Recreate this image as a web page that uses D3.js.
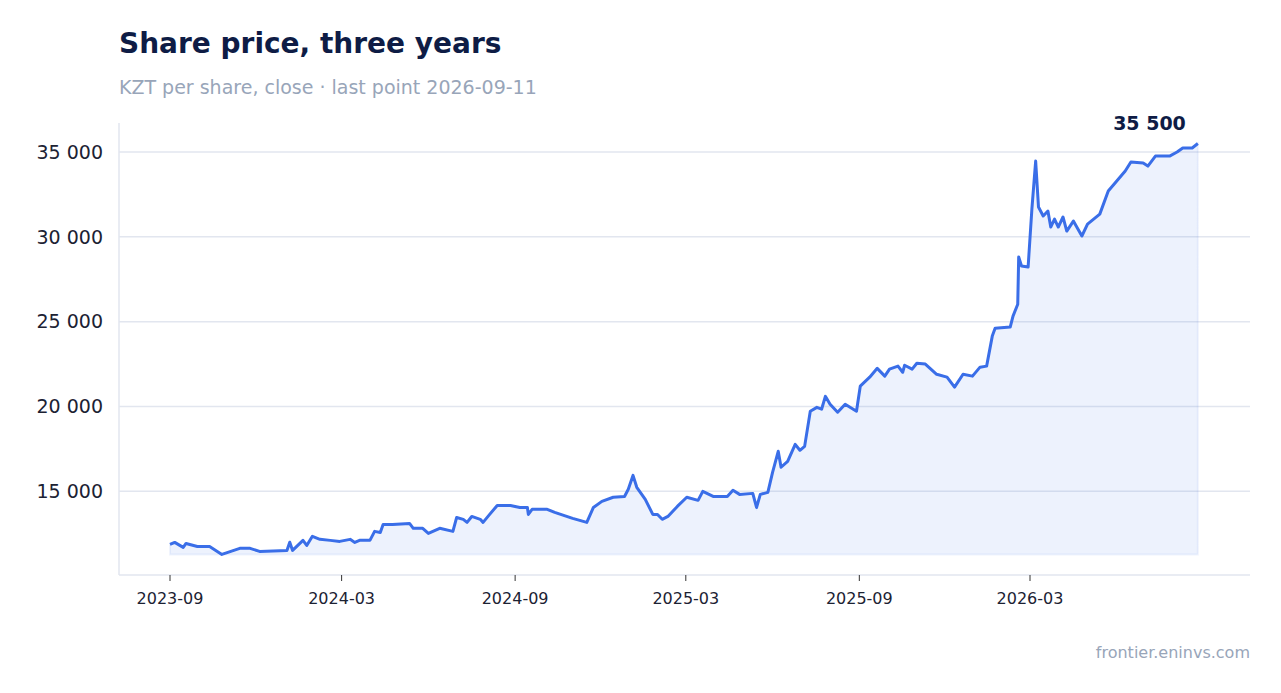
<!DOCTYPE html>
<html>
<head>
<meta charset="utf-8">
<script src="https://cdn.jsdelivr.net/npm/d3@7"></script>
<style>
  body { margin: 0; background: #fff; font-family: "DejaVu Sans", sans-serif; }
</style>
</head>
<body>
<svg id="chart" width="1281" height="693"></svg>
<script>
// DATA: days since start date, close price in KZT
const startDate = '2023-09-01';
const dayOffsets = [0,5,14,17,29,42,55,74,85,95,124,127,130,141,145,151,159,170,180,191,196,201,212,217,223,226,236,254,258,268,274,286,300,304,311,315,320,329,332,339,347,361,371,379,380,384,400,408,427,442,449,458,470,482,486,491,495,504,512,517,522,528,538,548,560,565,576,591,597,604,618,622,626,634,639,645,648,655,663,668,673,679,686,691,695,700,708,716,728,732,742,750,758,763,772,777,779,787,792,801,813,824,832,841,851,859,866,872,875,891,894,899,900,903,910,914,918,921,926,931,934,938,942,947,951,958,967,973,986,995,1004,1013,1019,1032,1037,1045,1060,1068,1074,1084,1090];
const closes = [11870,11990,11700,11930,11750,11750,11280,11640,11640,11460,11520,12000,11520,12110,11810,12350,12170,12110,12050,12170,11990,12110,12110,12640,12580,13050,13050,13110,12820,12820,12520,12820,12640,13460,13350,13170,13520,13350,13170,13640,14170,14170,14050,14050,13640,13940,13940,13760,13410,13170,14050,14410,14650,14700,15120,15940,15240,14530,13640,13640,13350,13520,14110,14650,14470,15000,14700,14700,15060,14820,14880,14050,14820,14940,16120,17360,16420,16770,17770,17420,17650,19720,19950,19840,20600,20130,19660,20130,19720,21200,21730,22250,21790,22200,22380,22020,22430,22200,22550,22500,21900,21730,21140,21900,21790,22320,22380,24150,24620,24680,25330,26030,28810,28280,28220,31640,34470,31760,31230,31520,30580,31050,30580,31170,30340,30930,30050,30750,31340,32700,33290,33880,34410,34350,34170,34760,34760,35000,35240,35240,35500];
const yTicks = [15000, 20000, 25000, 30000, 35000];
const xTickDates = ['2023-09-01','2024-03-01','2024-09-01','2025-03-01','2025-09-01','2026-03-01'];

const parse = d3.timeParse('%Y-%m-%d');
const start = parse(startDate);
const n = Math.min(dayOffsets.length, closes.length);
const data = dayOffsets.slice(0, n).map((d, i) => ({ date: d3.timeDay.offset(start, d), value: closes[i] }));

const fmt = v => d3.format(',')(v).replace(/,/g, ' ');

const svg = d3.select('#chart');
const plotLeft = 119, plotRight = 1250, plotTop = 123, plotBottom = 575;

const minV = d3.min(data, d => d.value), maxV = d3.max(data, d => d.value);
const pad = (maxV - minV) * 0.05;
const y = d3.scaleLinear().domain([minV - pad, maxV + pad]).range([plotBottom, plotTop]);
const x = d3.scaleTime().domain([parse('2023-09-01'), parse('2026-03-01')]).range([170, 1030]);

// title
svg.append('text').attr('x', 119).attr('y', 53)
  .attr('font-size', 28).attr('font-weight', 'bold').attr('fill', '#0e1c45')
  .text('Share price, three years');
svg.append('text').attr('x', 119).attr('y', 94)
  .attr('font-size', 19).attr('fill', '#98a5b9')
  .text('KZT per share, close · last point 2026-09-11');

// grid + y labels
yTicks.forEach(t => {
  svg.append('line').attr('x1', plotLeft).attr('x2', plotRight).attr('y1', y(t)).attr('y2', y(t))
    .attr('stroke', '#e2e6ef').attr('stroke-width', 1.5);
  svg.append('text').attr('x', 103).attr('y', y(t)).attr('dy', '0.35em')
    .attr('text-anchor', 'end').attr('font-size', 19).attr('fill', '#1c2233')
    .text(fmt(t));
});

// axes lines
svg.append('line').attr('x1', plotLeft).attr('x2', plotLeft).attr('y1', plotTop).attr('y2', plotBottom)
  .attr('stroke', '#e2e6ef').attr('stroke-width', 1.5);
svg.append('line').attr('x1', plotLeft).attr('x2', plotRight).attr('y1', plotBottom).attr('y2', plotBottom)
  .attr('stroke', '#e2e6ef').attr('stroke-width', 1.5);

// x ticks
xTickDates.map(parse).forEach(d => {
  svg.append('line').attr('x1', x(d)).attr('x2', x(d)).attr('y1', plotBottom).attr('y2', plotBottom + 6)
    .attr('stroke', '#333').attr('stroke-width', 1);
  svg.append('text').attr('x', x(d)).attr('y', 604).attr('text-anchor', 'middle')
    .attr('font-size', 16).attr('fill', '#1c2233')
    .text(d3.timeFormat('%Y-%m')(d));
});

// area + line
const area = d3.area().x(d => x(d.date)).y0(y(minV)).y1(d => y(d.value));
svg.append('path').datum(data).attr('d', area)
  .attr('fill', '#3a6ee8').attr('fill-opacity', 0.09)
  .attr('stroke', '#3a6ee8').attr('stroke-opacity', 0.08).attr('stroke-width', 2);
const line = d3.line().x(d => x(d.date)).y(d => y(d.value));
svg.append('path').datum(data).attr('d', line)
  .attr('fill', 'none').attr('stroke', '#3a6ee8').attr('stroke-width', 3)
  .attr('stroke-linejoin', 'round');

// last value label
const last = data[data.length - 1];
svg.append('text').attr('x', x(last.date) - 12).attr('y', 130)
  .attr('text-anchor', 'end').attr('font-size', 19).attr('font-weight', 'bold').attr('fill', '#0e1c45')
  .text(fmt(last.value));

// footer
svg.append('text').attr('x', 1250).attr('y', 658).attr('text-anchor', 'end')
  .attr('font-size', 16).attr('fill', '#98a5b9')
  .text('frontier.eninvs.com');
</script>
</body>
</html>
